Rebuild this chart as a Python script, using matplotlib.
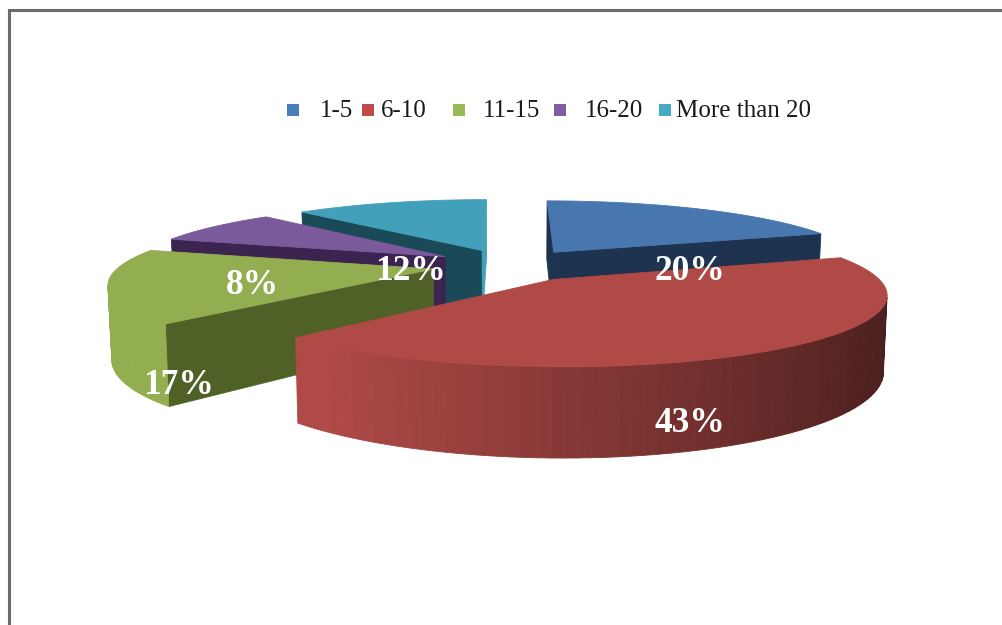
import numpy as np
import matplotlib
matplotlib.use("Agg")
import matplotlib.pyplot as plt

categories = ["1-5", "6-10", "11-15", "16-20", "More than 20"]
shares = [19.7, 42.6, 17.4, 8.1, 12.1]

top_colors = ["#4777ae", "#b04a47", "#93ae50", "#7b5a9b", "#43a0bb"]
side_colors = ["#1e3350", "#b04a47", "#4f6127", "#3c2450", "#1a4a58"]
end_colors = ["#1e3350", "#b04a47", "#4f6127", "#3c2450", "#43a0bb"]
legend_colors = ["#4a7ebb", "#be4b48", "#98b954", "#7d5fa0", "#46aac5"]

# where the texts sit, pixels
legend_box_x = [293, 368, 459, 560, 665]
legend_text_x = [320, 381, 483, 585, 676]
pct_pos = [(690, 272), (690, 424), (179, 386), (252, 286), (411, 272)]

# camera of the tilted pie, radius = 1
cx, horizon = 510, -87
D = 5.4
A = 1901
B = 1690
C = 382
explode = 0.25


def project(X, Y, z):
    s = D + Y
    return cx + B * X / s * (1 - 0.01 * z), horizon + A / s + C * z / s


def darken(color, f):
    rgb = np.array(matplotlib.colors.to_rgb(color))
    return tuple(rgb * f)


def quad(ax, p0, p1, color):
    # wall between two top points p0, p1, only if it looks at the camera
    xa, ya = project(p0[0], p0[1], 0)
    xb, yb = project(p1[0], p1[1], 0)
    xc, yc = project(p1[0], p1[1], 1)
    xd, yd = project(p0[0], p0[1], 1)
    xs = [xa, xb, xc, xd]
    ys = [ya, yb, yc, yd]
    area = 0
    for i in range(4):
        area += xs[i] * ys[(i + 1) % 4] - xs[(i + 1) % 4] * ys[i]
    if area > 0:
        ax.fill(xs, ys, color=color, lw=0.6)


fig = plt.figure(figsize=(10.02, 6.25), dpi=100)
ax = fig.add_axes([0, 0, 1, 1])
ax.set_xlim(0, 1002)
ax.set_ylim(625, 0)
ax.axis("off")

ax.plot([9, 9, 1002], [625, 10, 10], color="#6b6b6b", lw=2.2, solid_joinstyle="miter")

edges = np.concatenate([[0], np.cumsum(shares)]) / np.sum(shares) * 2 * np.pi
order = [4, 0, 3, 2, 1]  # back to front
for i in order:
    a0, a1 = edges[i], edges[i + 1]
    mid = (a0 + a1) / 2
    ox, oy = explode * np.sin(mid), explode * np.cos(mid)
    t = np.linspace(a0, a1, 80)
    rx = ox + np.sin(t)
    ry = oy + np.cos(t)
    quad(ax, (rx[0], ry[0]), (ox, oy), side_colors[i])
    quad(ax, (ox, oy), (rx[-1], ry[-1]), end_colors[i])
    for k in range(len(t) - 1):
        f = np.interp(np.sin((t[k] + t[k + 1]) / 2), [-1, -0.62, 1], [1, 1, 0.4])
        quad(ax, (rx[k + 1], ry[k + 1]), (rx[k], ry[k]), darken(top_colors[i], f))
    px, py = project(np.r_[ox, rx], np.r_[oy, ry], 0)
    ax.fill(px, py, color=top_colors[i], lw=0.6)

for i in range(len(categories)):
    ax.scatter(legend_box_x[i], 110, marker="s", s=80, color=legend_colors[i], linewidths=0)
    ax.text(legend_text_x[i], 111, categories[i], family="Liberation Serif", fontsize=18,
            color="#1a1a1a", va="center", ha="left")
    ax.text(pct_pos[i][0], pct_pos[i][1], "%d%%" % round(shares[i]), family="Liberation Serif",
            fontsize=25.5, fontweight="bold", color="white", va="center", ha="center")

fig.savefig("out.png", dpi=100)
